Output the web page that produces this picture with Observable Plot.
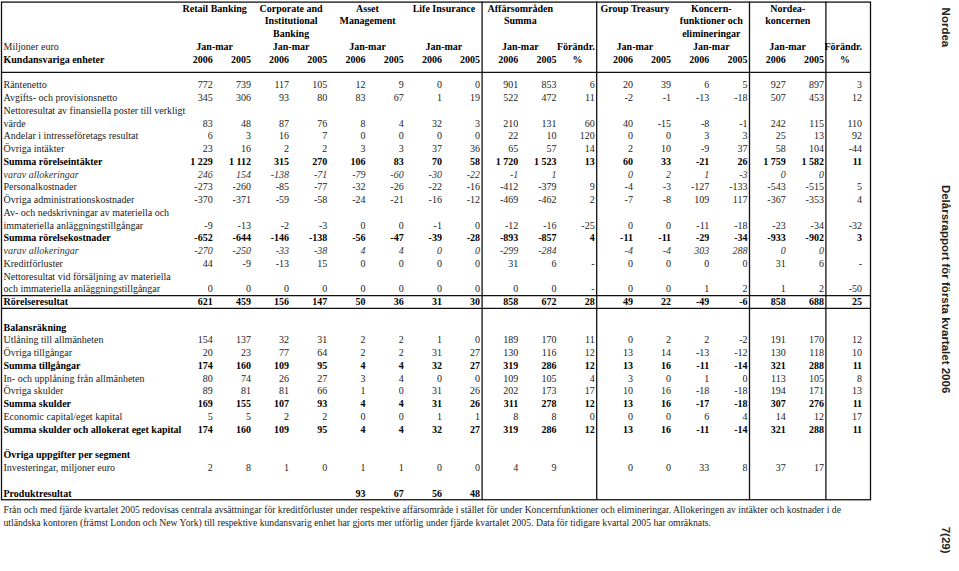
<!DOCTYPE html>
<html><head><meta charset="utf-8">
<script src="https://cdn.jsdelivr.net/npm/d3@7"></script>
<script src="https://cdn.jsdelivr.net/npm/@observablehq/plot@0.6"></script>
<style>html,body{margin:0;padding:0;background:#fff;} #chart svg{display:block}</style>
</head><body><div id="chart"></div>
<script>
// ---------- DATA ----------
const segments = ["Retail Banking", "Corporate and\nInstitutional\nBanking", "Asset\nManagement", "Life Insurance",
  "Affärsområden\nSumma", "Group Treasury", "Koncern-\nfunktioner och\nelimineringar", "Nordea-\nkoncernen"];
const changeSegments = ["Affärsområden\nSumma", "Nordea-\nkoncernen"];
const periodLabel = "Jan-mar";
const years = ["2006", "2005"];
const changeLabel = ["Förändr.", "%"];
const unitLabel = "Miljoner euro";
const sectionLabel = "Kundansvariga enheter";

const rowLabels = [
  "Räntenetto",
  "Avgifts- och provisionsnetto",
  "Nettoresultat av finansiella poster till verkligt\nvärde",
  "Andelar i intresseföretags resultat",
  "Övriga intäkter",
  "Summa rörelseintäkter",
  "varav allokeringar",
  "Personalkostnader",
  "Övriga administrationskostnader",
  "Av- och nedskrivningar av materiella och\nimmateriella anläggningstillgångar",
  "Summa rörelsekostnader",
  "varav allokeringar",
  "Kreditförluster",
  "Nettoresultat vid försäljning av materiella\noch immateriella anläggningstillgångar",
  "Rörelseresultat",
  "Balansräkning",
  "Utlåning till allmänheten",
  "Övriga tillgångar",
  "Summa tillgångar",
  "In- och upplåning från allmänheten",
  "Övriga skulder",
  "Summa skulder",
  "Economic capital/eget kapital",
  "Summa skulder och allokerat eget kapital",
  "Övriga uppgifter per segment",
  "Investeringar, miljoner euro",
  "Produktresultat"
];

const raentenetto      = [772, 739, 117, 105, 12, 9, 0, 0, 901, 853, 6, 20, 39, 6, 5, 927, 897, 3];
const avgifter         = [345, 306, 93, 80, 83, 67, 1, 19, 522, 472, 11, -2, -1, -13, -18, 507, 453, 12];
const verkligtVarde    = [83, 48, 87, 76, 8, 4, 32, 3, 210, 131, 60, 40, -15, -8, -1, 242, 115, 110];
const andelar          = [6, 3, 16, 7, 0, 0, 0, 0, 22, 10, 120, 0, 0, 3, 3, 25, 13, 92];
const ovrigaIntakter   = [23, 16, 2, 2, 3, 3, 37, 36, 65, 57, 14, 2, 10, -9, 37, 58, 104, -44];
const summaIntakter    = [1229, 1112, 315, 270, 106, 83, 70, 58, 1720, 1523, 13, 60, 33, -21, 26, 1759, 1582, 11];
const allokIntakter    = [246, 154, -138, -71, -79, -60, -30, -22, -1, 1, null, 0, 2, 1, -3, 0, 0, null];
const personal         = [-273, -260, -85, -77, -32, -26, -22, -16, -412, -379, 9, -4, -3, -127, -133, -543, -515, 5];
const ovrigaAdmin      = [-370, -371, -59, -58, -24, -21, -16, -12, -469, -462, 2, -7, -8, 109, 117, -367, -353, 4];
const avskrivningar    = [-9, -13, -2, -3, 0, 0, -1, 0, -12, -16, -25, 0, 0, -11, -18, -23, -34, -32];
const summaKostnader   = [-652, -644, -146, -138, -56, -47, -39, -28, -893, -857, 4, -11, -11, -29, -34, -933, -902, 3];
const allokKostnader   = [-270, -250, -33, -38, 4, 4, 0, 0, -299, -284, null, -4, -4, 303, 288, 0, 0, null];
const kreditforluster  = [44, -9, -13, 15, 0, 0, 0, 0, 31, 6, "-", 0, 0, 0, 0, 31, 6, "-"];
const forsaljning      = [0, 0, 0, 0, 0, 0, 0, 0, 0, 0, "-", 0, 0, 1, 2, 1, 2, -50];
const rorelseresultat  = [621, 459, 156, 147, 50, 36, 31, 30, 858, 672, 28, 49, 22, -49, -6, 858, 688, 25];
const balansrakning    = [];
const utlaning         = [154, 137, 32, 31, 2, 2, 1, 0, 189, 170, 11, 0, 2, 2, -2, 191, 170, 12];
const ovrigaTillgangar = [20, 23, 77, 64, 2, 2, 31, 27, 130, 116, 12, 13, 14, -13, -12, 130, 118, 10];
const summaTillgangar  = [174, 160, 109, 95, 4, 4, 32, 27, 319, 286, 12, 13, 16, -11, -14, 321, 288, 11];
const inlaning         = [80, 74, 26, 27, 3, 4, 0, 0, 109, 105, 4, 3, 0, 1, 0, 113, 105, 8];
const ovrigaSkulder    = [89, 81, 81, 66, 1, 0, 31, 26, 202, 173, 17, 10, 16, -18, -18, 194, 171, 13];
const summaSkulder     = [169, 155, 107, 93, 4, 4, 31, 26, 311, 278, 12, 13, 16, -17, -18, 307, 276, 11];
const economicCapital  = [5, 5, 2, 2, 0, 0, 1, 1, 8, 8, 0, 0, 0, 6, 4, 14, 12, 17];
const summaSkulderKap  = [174, 160, 109, 95, 4, 4, 32, 27, 319, 286, 12, 13, 16, -11, -14, 321, 288, 11];
const ovrigaUppgifter  = [];
const investeringar    = [2, 8, 1, 0, 1, 1, 0, 0, 4, 9, null, 0, 0, 33, 8, 37, 17, null];
const produktresultat  = [null, null, null, null, 93, 67, 56, 48, null, null, null, null, null, null, null, null, null, null];

const rowValues = [raentenetto, avgifter, verkligtVarde, andelar, ovrigaIntakter, summaIntakter, allokIntakter,
  personal, ovrigaAdmin, avskrivningar, summaKostnader, allokKostnader, kreditforluster, forsaljning, rorelseresultat,
  balansrakning, utlaning, ovrigaTillgangar, summaTillgangar, inlaning, ovrigaSkulder, summaSkulder, economicCapital,
  summaSkulderKap, ovrigaUppgifter, investeringar, produktresultat];

const footnote = [
  "Från och med fjärde kvartalet 2005 redovisas centrala avsättningar för kreditförluster under respektive affärsområde i stället för under Koncernfunktioner och elimineringar. Allokeringen av intäkter och kostnader i de",
  "utländska kontoren (främst London och New York) till respektive kundansvarig enhet har gjorts mer utförlig under fjärde kvartalet 2005. Data för tidigare kvartal 2005 har omräknats."
];
const sideLabels = ["Nordea", "Delårsrapport för första kvartalet 2006", "7(29)"];

// ---------- STYLE / LAYOUT ----------
const boldLabels = ["Summa rörelseintäkter", "Summa rörelsekostnader", "Rörelseresultat", "Balansräkning",
  "Summa tillgångar", "Summa skulder", "Summa skulder och allokerat eget kapital", "Övriga uppgifter per segment", "Produktresultat"];
const italicLabels = ["varav allokeringar"];
const gapAfter = ["Rörelseresultat", "Summa skulder och allokerat eget kapital", "Investeringar, miljoner euro"];
const boxedRow = "Rörelseresultat";
const W = 959, H = 571;
const L = {firstCol: 176, colW: 38.2, tableRight: 870, top: 1.6, rowH: 12.76, tableRows: 39};
const serif = "'Liberation Serif','Times New Roman',serif";
const sans = "'Liberation Sans',Arial,sans-serif";

// ---------- STRUCTURE ----------
const fmt = d3.formatLocale({decimal: ",", thousands: " ", grouping: [3], currency: ["", ""], minus: "-"}).format(",d");
const show = v => v == null ? "" : (typeof v === "string" ? v : fmt(v));

const columns = [];
segments.forEach((s, si) => {
  years.forEach(y => columns.push({key: `s${si}_${y}`, seg: si}));
  if (changeSegments.includes(s)) columns.push({key: `s${si}_pct`, seg: si});
});
const colKeys = columns.map(c => c.key);
const bw = L.colW;

const slots = ["h1", "h2", "h3", "h4", "h5", "hline"];
const rowSlot = [];
const labelCells = [];
rowLabels.forEach((lab, i) => {
  const lines = lab.split("\n");
  lines.forEach((ln, j) => { const k = `r${i}_${j}`; slots.push(k); labelCells.push({slot: k, text: ln, row: i}); });
  rowSlot[i] = `r${i}_${lines.length - 1}`;
  if (gapAfter.includes(lab)) slots.push(`gap${i}`);
});
slots.push("f1", "f2");

const isBold = i => boldLabels.includes(rowLabels[i]);
const isItalic = i => italicLabels.includes(rowLabels[i]);

const cells = [];
rowValues.forEach((vals, i) => vals.forEach((v, c) => {
  const t = show(v);
  if (t) cells.push({slot: rowSlot[i], col: colKeys[c], text: t, row: i});
}));

const headPair = [], headEnd = [], headMid = [];
segments.forEach((s, si) => {
  s.split("\n").forEach((ln, j) => headPair.push({slot: `h${j + 1}`, col: `s${si}_2006`, text: ln}));
  headPair.push({slot: "h4", col: `s${si}_2006`, text: periodLabel});
  years.forEach(y => headEnd.push({slot: "h5", col: `s${si}_${y}`, text: y}));
  if (changeSegments.includes(s)) {
    headEnd.push({slot: "h4", col: `s${si}_pct`, text: changeLabel[0]});
    headMid.push({slot: "h5", col: `s${si}_pct`, text: changeLabel[1]});
  }
});
const groupEnds = ["s3_2005", "s4_pct", "s6_2005", "s7_2005"];
const boxSlot = rowSlot[rowLabels.indexOf(boxedRow)];

const line = {stroke: "#111", strokeWidth: 1.3};
const reg = {fontSize: 10, fill: "#222"};
const bold = {fontSize: 10, fill: "#000", fontWeight: "bold"};
const ital = {fontSize: 10, fill: "#333", fontStyle: "italic"};
const numOpts = {x: "col", y: "slot", text: "text", textAnchor: "end", dx: bw / 2 - 2};
const lblOpts = {y: "slot", text: "text", frameAnchor: "left", textAnchor: "start", dx: 2};
const sideOpts = {text: d => d, frameAnchor: "top-right", dx: 80, rotate: 90,
  fontFamily: sans, fontWeight: "bold", fontSize: 11.5, fill: "#222"};

const chart = Plot.plot({
  width: W, height: H,
  marginLeft: 1, marginRight: W - L.tableRight,
  marginTop: L.top, marginBottom: H - (L.top + L.tableRows * L.rowH),
  style: {fontFamily: serif, background: "#fff", color: "#111"},
  x: {type: "band", domain: colKeys, range: [L.firstCol, L.firstCol + colKeys.length * L.colW], padding: 0, round: false, axis: null},
  y: {type: "band", domain: slots, range: [L.top, L.top + slots.length * L.rowH], padding: 0, round: false, axis: null},
  marks: [
    Plot.frame(line),
    Plot.ruleX(groupEnds, {x: d => d, dx: bw / 2, ...line}),
    Plot.ruleY(["hline"], {y: d => d, ...line}),
    Plot.ruleY([boxSlot], {y: d => d, dy: -L.rowH / 2, ...line}),
    Plot.ruleY([boxSlot], {y: d => d, dy: L.rowH / 2, ...line}),
    // header
    Plot.text([{slot: "h4", text: unitLabel}], {...lblOpts, ...reg}),
    Plot.text([{slot: "h5", text: sectionLabel}], {...lblOpts, ...bold}),
    Plot.text(headPair, {x: "col", y: "slot", text: "text", textAnchor: "middle", dx: bw / 2, ...bold}),
    Plot.text(headEnd, {...numOpts, ...bold}),
    Plot.text(headMid, {x: "col", y: "slot", text: "text", textAnchor: "middle", ...bold}),
    // row labels
    Plot.text(labelCells.filter(d => !isBold(d.row) && !isItalic(d.row)), {...lblOpts, ...reg}),
    Plot.text(labelCells.filter(d => isBold(d.row)), {...lblOpts, ...bold}),
    Plot.text(labelCells.filter(d => isItalic(d.row)), {...lblOpts, ...ital}),
    // values
    Plot.text(cells.filter(d => !isBold(d.row) && !isItalic(d.row)), {...numOpts, ...reg}),
    Plot.text(cells.filter(d => isBold(d.row)), {...numOpts, ...bold}),
    Plot.text(cells.filter(d => isItalic(d.row)), {...numOpts, ...ital}),
    // footnote
    Plot.text(footnote.map((t, i) => ({slot: `f${i + 1}`, text: t})), {...lblOpts, dy: 4, fontSize: 9.7, fill: "#222"}),
    // side labels
    Plot.text([sideLabels[0]], {...sideOpts, dy: 5.5, textAnchor: "start"}),
    Plot.text([sideLabels[1]], {...sideOpts, dy: 287, textAnchor: "middle"}),
    Plot.text([sideLabels[2]], {...sideOpts, dy: 538, textAnchor: "middle"})
  ]
});
document.getElementById("chart").appendChild(chart);
</script>
</body></html>
